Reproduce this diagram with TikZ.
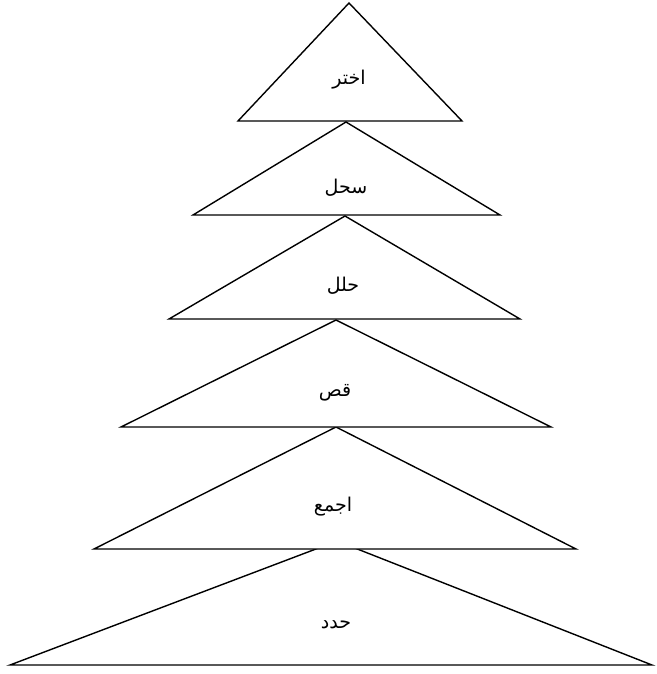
\documentclass[tikz,border=0pt]{standalone}
\usepackage{fontspec}
\newfontfamily\arabicfont[Script=Arabic]{DejaVu Sans}
\TeXXeTstate=1

\tikzset{
  tri/.style={draw,fill=white,line join=miter},
  word/.style={font=\arabicfont\fontsize{19}{22}\selectfont,inner sep=0pt}
}

\begin{document}
\begin{tikzpicture}[x=1pt,y=-1pt,line width=1.4pt]
  \useasboundingbox (0,0) rectangle (656,674);
  % triangles, bottom first so the upper ones lie on top
  \path[tri] (337,541) -- (652,665) -- (10,665) -- cycle;
  \path[tri] (336,427) -- (576,549) -- (94,549) -- cycle;
  \path[tri] (336,320) -- (551,427) -- (121,427) -- cycle;
  \path[tri] (345,216) -- (520,319) -- (169,319) -- cycle;
  \path[tri] (346,122) -- (500,215) -- (193,215) -- cycle;
  \path[tri] (349,3) -- (462,121) -- (238,121) -- cycle;
  % labels
  \node[word] (choose)  at (349,80)  {\beginR اختر\endR};
  \node[word] (record)  at (346,188) {\beginR سحل\endR};
  \node[word] (analyse) at (343,286) {\beginR حلل\endR};
  \node[word] (cut)     at (335,393) {\beginR قص\endR};
  \node[word] (collect) at (333,507) {\beginR اجمع\endR};
  \node[word] (define)  at (336,625) {\beginR حدد\endR};
\end{tikzpicture}
\end{document}
